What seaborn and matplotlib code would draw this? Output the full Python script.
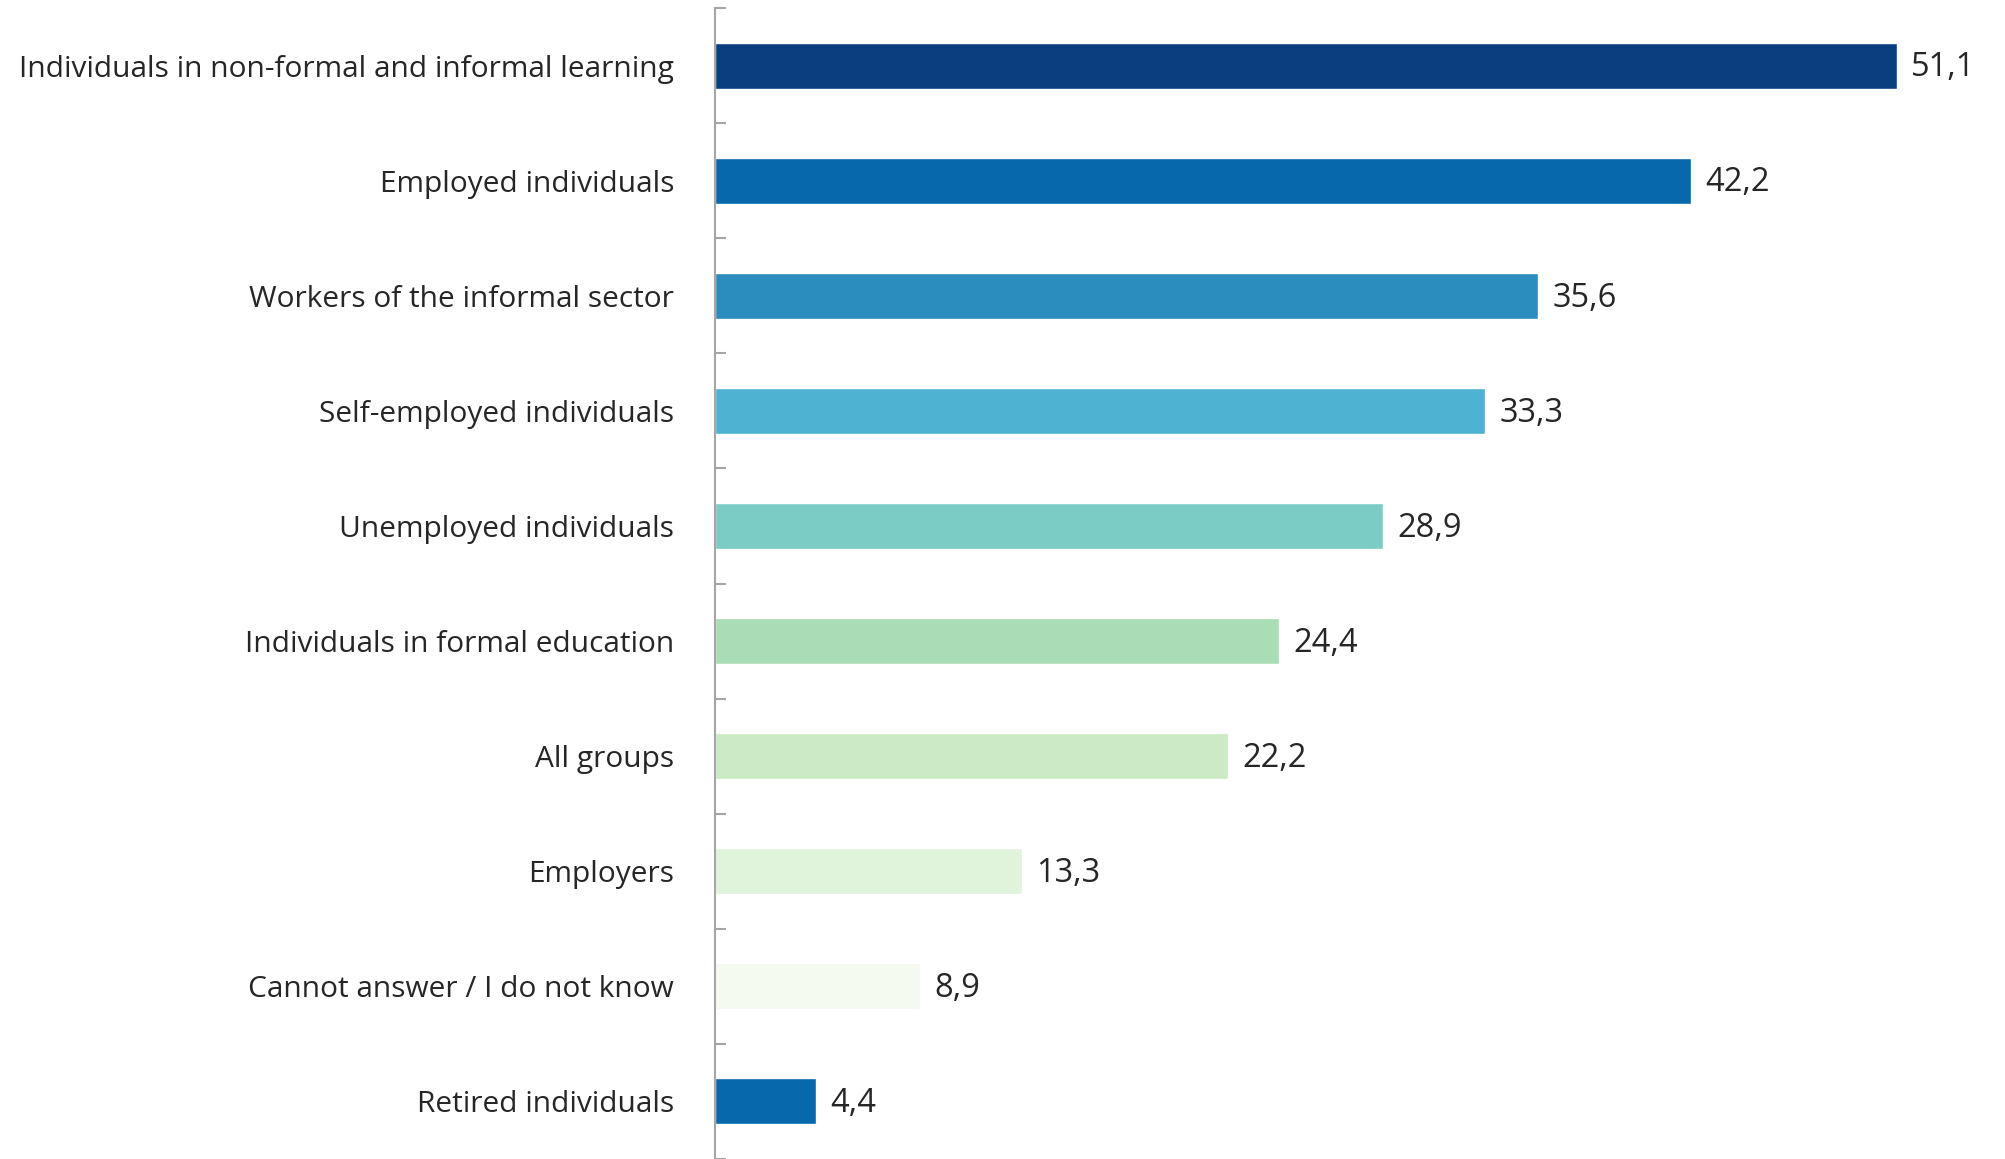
import matplotlib
matplotlib.use("Agg")
import matplotlib.pyplot as plt
import seaborn as sns
import pandas as pd
import numpy as np

categories = [
    "Individuals in non-formal and informal learning",
    "Employed individuals",
    "Workers of the informal sector",
    "Self-employed individuals",
    "Unemployed individuals",
    "Individuals in formal education",
    "All groups",
    "Employers",
    "Cannot answer / I do not know",
    "Retired individuals",
]
values = [51.1, 42.2, 35.6, 33.3, 28.9, 24.4, 22.2, 13.3, 8.9, 4.4]
colors = ["#0a3f7f", "#0868ac", "#2b8cbe", "#4eb3d3", "#7bccc4",
          "#a8ddb5", "#ccebc5", "#e0f3db", "#f4faef", "#0868ac"]

sns.set_style("white")
plt.rcParams['font.family'] = ['Open Sans', 'DejaVu Sans']

df = pd.DataFrame({"cat": categories, "val": values})

fig = plt.figure(figsize=(20.06, 11.59), dpi=100)
ax = fig.add_axes([714.5 / 2006, 0.0, 1273 / 2006, 1 - 8 / 1159])

sns.barplot(data=df, y="cat", x="val", hue="cat", palette=colors,
            order=categories, hue_order=categories, dodge=False,
            legend=False, width=0.4, ax=ax, orient="h", saturation=1)

ax.set_xlim(0, 55)
ax.set_ylim(len(categories) - 0.5, -0.5)

for i, v in enumerate(values):
    ax.text(v + 0.6, i + 0.02, f"{v:.1f}".replace(".", ","), va="center", ha="left",
            fontsize=23.5, color="#262626")

for s in ["top", "right", "bottom"]:
    ax.spines[s].set_visible(False)
ax.spines["left"].set_color("#a6a6a6")
ax.spines["left"].set_linewidth(1.5)

ax.set_xticks([])
ax.set_xlabel("")
ax.set_ylabel("")
ax.set_yticks(range(len(categories)))
ax.set_yticklabels(categories, fontsize=21.5, color="#262626")
ax.tick_params(axis="y", which="major", left=True, length=0, pad=29)
ax.set_yticks(np.arange(-0.5, len(categories), 1.0), minor=True)
ax.tick_params(axis="y", which="minor", left=True, direction="in", length=8,
               width=1.5, color="#a6a6a6")

fig.savefig("out.png", dpi=100)
